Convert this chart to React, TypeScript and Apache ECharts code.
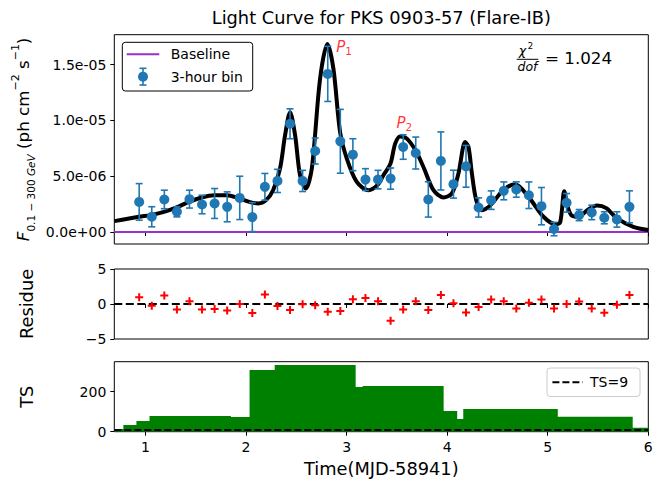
import React, { useEffect, useRef } from 'react';
import * as echarts from 'echarts';

// 3-hour bins (MJD - 58941)
const TIMES = [0.9375, 1.0625, 1.1875, 1.3125, 1.4375, 1.5625, 1.6875, 1.8125, 1.9375, 2.0625,
  2.1875, 2.3125, 2.4375, 2.5625, 2.6875, 2.8125, 2.9375, 3.0625, 3.1875, 3.3125,
  3.4375, 3.5625, 3.6875, 3.8125, 3.9375, 4.0625, 4.1875, 4.3125, 4.4375, 4.5625,
  4.6875, 4.8125, 4.9375, 5.0625, 5.1875, 5.3125, 5.4375, 5.5625, 5.6875, 5.8125];
// flux in units of 1e-6 ph cm^-2 s^-1
const FLUX = [2.70, 1.37, 2.92, 1.81, 2.95, 2.47, 2.56, 2.26, 3.06, 1.34,
  4.05, 4.58, 9.70, 4.58, 7.26, 14.17, 8.13, 6.93, 4.70, 4.70,
  4.79, 7.62, 7.08, 2.92, 6.37, 4.29, 5.89, 2.20, 2.86, 3.69,
  3.81, 3.30, 2.32, 0.27, 2.62, 1.52, 1.76, 1.28, 1.13, 2.26];
const FLUX_ERR = [1.64, 0.90, 0.83, 0.45, 0.80, 0.83, 1.34, 1.34, 1.94, 1.30,
  1.20, 1.04, 1.34, 0.95, 1.16, 2.47, 2.86, 1.43, 0.98, 0.83,
  0.95, 1.10, 1.43, 1.58, 2.60, 1.25, 1.87, 0.86, 0.83, 0.80,
  0.69, 1.19, 1.67, 0.60, 0.83, 0.50, 0.65, 0.54, 0.69, 1.43];
const RESIDUALS = [0.97, -0.24, 1.2, -0.77, 0.39, -0.77, -0.72, -0.92, 0.0, -1.3,
  1.35, -0.29, -0.87, -0.05, -0.19, -1.1, -1.0, 0.68, 0.87, 0.39,
  -2.4, -0.77, 0.39, -0.87, 1.3, 0.1, -1.2, -0.43, 0.63, 0.39,
  -0.63, 0.19, 0.63, -0.63, 0.0, 0.34, -0.63, -1.26, -0.1, 1.3];
// fitted model curve (time, flux in 1e-6)
const MODEL_T = [0.69, 0.935, 1.055, 1.184, 1.31, 1.433, 1.559, 1.685, 1.808, 1.933,
  2.04, 2.122, 2.199, 2.269, 2.338, 2.388, 2.438, 2.488, 2.537, 2.594,
  2.654, 2.736, 2.809, 2.869, 2.935, 3.002, 3.101, 3.217, 3.306, 3.366,
  3.436, 3.483, 3.532, 3.599, 3.685, 3.764, 3.864, 3.963, 4.047, 4.112,
  4.179, 4.212, 4.246, 4.289, 4.345, 4.431, 4.557, 4.677, 4.809, 4.958,
  5.075, 5.124, 5.164, 5.194, 5.234, 5.307, 5.393, 5.49, 5.582, 5.689,
  5.851, 6.0];
const MODEL_F = [0.98, 1.37, 1.52, 1.81, 2.21, 2.71, 3.10, 3.30, 3.30, 3.01,
  2.68, 2.56, 2.86, 3.75, 5.69, 8.66, 10.74, 8.66, 5.09, 3.90,
  5.69, 13.72, 16.85, 14.62, 8.96, 6.58, 4.49, 3.75, 4.20, 5.09,
  6.13, 7.92, 8.57, 8.37, 7.32, 5.83, 3.75, 3.10, 3.46, 5.24,
  8.06, 7.62, 5.24, 2.86, 1.96, 2.41, 3.75, 4.29, 3.15, 1.37,
  0.71, 0.89, 3.66, 2.41, 1.52, 1.37, 1.96, 2.37, 2.14, 1.22,
  0.47, 0.18];
const BASELINE = 0;
// TS blocks
const TS_EDGES = [0.69, 0.78, 0.91, 1.04, 1.85, 2.035, 2.285, 3.09, 3.16, 3.965, 4.10, 4.16, 5.10, 5.845, 6.0];
const TS_VALUES = [13, 33, 54, 78, 73, 308, 333, 223, 228, 103, 63, 113, 75, 20];
const TS_THRESHOLD = 9;
const CHI2_DOF = '1.024';

const X_TICKS = [1, 2, 3, 4, 5, 6];
const FLUX_TICKS = [0, 5e-6, 1e-5, 1.5e-5];
const RES_TICKS = [-5, 0, 5];
const TS_TICKS = [0, 200];

const PEAKS = [
  { label: '1', t: 2.902, f: 1.655e-5 },
  { label: '2', t: 3.502, f: 9.73e-6 },
];

const FONT = 'DejaVu Sans';
const XMIN = 0.69;
const XMAX = 6.0;
const BLUE = '#1f77b4';
const PURPLE = '#9932cc';
const LABEL_SIZE = 17.8;

function sci(v: number): string {
  if (Math.abs(v) < 1e-12) return '0.0e+00';
  const e = Math.floor(Math.log10(Math.abs(v)) + 1e-9);
  const m = v / Math.pow(10, e);
  return m.toFixed(1) + 'e' + (e < 0 ? '-' : '+') + String(Math.abs(e)).padStart(2, '0');
}

const PLUS = 'path://M3.75 0H6.25V3.75H10V6.25H6.25V10H3.75V6.25H0V3.75H3.75Z';

export default function App() {
  const ref = useRef<HTMLDivElement>(null);
  useEffect(() => {
    const chart = echarts.init(ref.current!, null, { renderer: 'svg' });
    const L = 114.3, W = 534;
    const grids = [
      { left: L, top: 34.7, width: W, height: 209.3 },
      { left: L, top: 269, width: W, height: 70 },
      { left: L, top: 361.7, width: W, height: 70 },
    ].map(g => ({ ...g, show: true, borderColor: '#000', borderWidth: 1, backgroundColor: 'transparent' }));

    const xAxes = [0, 1, 2].map(i => ({
      type: 'value', gridIndex: i, min: XMIN, max: XMAX,
      axisLine: { show: false }, splitLine: { show: false },
      axisTick: { show: true, length: 4, lineStyle: { color: '#000', width: 1 }, customValues: X_TICKS },
      axisLabel: { show: i === 2, customValues: X_TICKS, color: '#000', fontFamily: FONT, fontSize: 14, margin: 8 },
    }));
    const yCommon = {
      type: 'value', axisLine: { show: false }, splitLine: { show: false },
      axisTick: { show: true, length: 4, lineStyle: { color: '#000', width: 1 } },
    };
    const yAxes = [
      { ...yCommon, gridIndex: 0, min: -1.07e-6, max: 1.768e-5,
        axisTick: { ...yCommon.axisTick, customValues: FLUX_TICKS },
        axisLabel: { customValues: FLUX_TICKS, formatter: (v: number) => sci(v), color: '#000', fontFamily: FONT, fontSize: 14, margin: 8 } },
      { ...yCommon, gridIndex: 1, min: -5, max: 5,
        axisTick: { ...yCommon.axisTick, customValues: RES_TICKS },
        axisLabel: { customValues: RES_TICKS, formatter: (v: number) => (v < 0 ? '\u2212' + Math.abs(v) : String(v)), color: '#000', fontFamily: FONT, fontSize: 14, margin: 8 } },
      { ...yCommon, gridIndex: 2, min: 0, max: 350,
        axisTick: { ...yCommon.axisTick, customValues: TS_TICKS },
        axisLabel: { customValues: TS_TICKS, color: '#000', fontFamily: FONT, fontSize: 14, margin: 8 } },
    ];

    const tsData: number[][] = TS_VALUES.map((v, i) => [TS_EDGES[i], v]);
    tsData.push([TS_EDGES[TS_EDGES.length - 1], TS_VALUES[TS_VALUES.length - 1]]);

    const series: any[] = [
      {
        type: 'line', name: 'Baseline', xAxisIndex: 0, yAxisIndex: 0, symbol: 'none',
        data: [[XMIN, BASELINE], [XMAX, BASELINE]],
        lineStyle: { color: PURPLE, width: 2 }, z: 2,
      },
      {
        type: 'line', name: 'model', xAxisIndex: 0, yAxisIndex: 0, symbol: 'none', smooth: 0.3,
        data: MODEL_T.map((t, i) => [t, MODEL_F[i] * 1e-6]),
        lineStyle: { color: '#000', width: 4 }, z: 3,
      },
      {
        type: 'custom', name: 'err', xAxisIndex: 0, yAxisIndex: 0, z: 4,
        data: TIMES.map((t, i) => [t, (FLUX[i] - FLUX_ERR[i]) * 1e-6, (FLUX[i] + FLUX_ERR[i]) * 1e-6]),
        encode: { x: 0, y: [1, 2] },
        renderItem: (params: any, api: any) => {
          const x = api.value(0), lo = api.value(1), hi = api.value(2);
          const a = api.coord([x, lo]), b = api.coord([x, hi]);
          const c = 3.5;
          const style = { stroke: BLUE, lineWidth: 1.6 };
          return {
            type: 'group', children: [
              { type: 'line', shape: { x1: a[0], y1: a[1], x2: b[0], y2: b[1] }, style },
              { type: 'line', shape: { x1: a[0] - c, y1: a[1], x2: a[0] + c, y2: a[1] }, style },
              { type: 'line', shape: { x1: b[0] - c, y1: b[1], x2: b[0] + c, y2: b[1] }, style },
            ],
          };
        },
      },
      {
        type: 'scatter', name: '3-hour bin', xAxisIndex: 0, yAxisIndex: 0, z: 5,
        symbol: 'circle', symbolSize: 10, itemStyle: { color: BLUE, opacity: 1 },
        data: TIMES.map((t, i) => [t, FLUX[i] * 1e-6]),
      },
      {
        type: 'scatter', name: 'peaks', xAxisIndex: 0, yAxisIndex: 0, z: 6, symbolSize: 1,
        itemStyle: { color: 'transparent' },
        data: PEAKS.map(p => ({ value: [p.t, p.f], name: p.label })),
        label: {
          show: true, position: [0, 0], align: 'left', verticalAlign: 'middle',
          formatter: (p: any) => '{p|P}{s|' + p.name + '}',
          rich: {
            p: { fontFamily: FONT, fontStyle: 'italic', fontSize: 15, color: '#ff0000', lineHeight: 20, verticalAlign: 'middle' },
            s: { fontFamily: FONT, fontSize: 10.5, color: '#ff0000', lineHeight: 11, verticalAlign: 'bottom' },
          },
        },
      },
      {
        type: 'scatter', name: 'residue', xAxisIndex: 1, yAxisIndex: 1, z: 5,
        symbol: PLUS, symbolSize: 8, itemStyle: { color: '#ff0000', opacity: 1 },
        data: TIMES.map((t, i) => [t, RESIDUALS[i]]),
        markLine: {
          silent: true, symbol: ['none', 'none'], label: { show: false },
          lineStyle: { color: '#000', type: [8, 3.5], width: 2 },
          data: [{ yAxis: 0 }],
        },
      },
      {
        type: 'line', name: 'TS', xAxisIndex: 2, yAxisIndex: 2, step: 'end', symbol: 'none', z: 3,
        data: tsData,
        lineStyle: { width: 0, color: '#008000' },
        areaStyle: { color: '#008000', opacity: 1 },
        markLine: {
          silent: true, symbol: ['none', 'none'], label: { show: false },
          lineStyle: { color: '#000', type: [7, 3], width: 2 },
          data: [{ yAxis: TS_THRESHOLD }],
        },
      },
    ];

    const txt = (text: string, x: number, y: number, extra: any = {}) => ({
      type: 'text', x, y, z: 100,
      style: { text, fontFamily: FONT, fontSize: LABEL_SIZE, fill: '#000', align: 'center', verticalAlign: 'middle', ...extra },
    });

    const graphic: any[] = [
      txt('Light Curve for PKS 0903-57 (Flare-IB)', 381.3, 17),
      txt('Time(MJD-58941)', 381.3, 468),
      { ...txt('Residue', 26, 304), rotation: Math.PI / 2 },
      { ...txt('TS', 26, 396.7), rotation: Math.PI / 2 },
      {
        type: 'text', x: 23, y: 139.4, rotation: Math.PI / 2, z: 100,
        style: {
          text: '{f|F}{sub|0.1 \u2212 300 }{subi|GeV}{n| (ph cm}{sup|\u22122}{n| s}{sup|\u22121}{n|)}',
          align: 'center', verticalAlign: 'middle', fill: '#000',
          rich: {
            f: { fontFamily: FONT, fontStyle: 'italic', fontSize: 16.7, lineHeight: 26, verticalAlign: 'middle', fill: '#000' },
            n: { fontFamily: FONT, fontSize: 16.7, lineHeight: 26, verticalAlign: 'middle', fill: '#000' },
            sub: { fontFamily: FONT, fontSize: 10.5, lineHeight: 11, verticalAlign: 'bottom', fill: '#000' },
            subi: { fontFamily: FONT, fontStyle: 'italic', fontSize: 10.5, lineHeight: 11, verticalAlign: 'bottom', fill: '#000' },
            sup: { fontFamily: FONT, fontSize: 11, lineHeight: 11, verticalAlign: 'top', fill: '#000' },
          },
        },
      },
      // chi2/dof annotation
      txt('\u03c7', 522.5, 50, { fontSize: 12.5, fontStyle: 'italic' }),
      txt('2', 530.5, 45.5, { fontSize: 8.5 }),
      { type: 'line', z: 100, shape: { x1: 516.7, y1: 59.3, x2: 538.3, y2: 59.3 }, style: { stroke: '#000', lineWidth: 1 } },
      txt('dof', 527.5, 66, { fontSize: 12.5, fontStyle: 'italic' }),
      txt('= ' + CHI2_DOF, 545, 58.3, { align: 'left', fontSize: 16.7 }),
      // top legend
      { type: 'rect', z: 99, shape: { x: 122.3, y: 42.3, width: 130.4, height: 48.7, r: 3 },
        style: { fill: 'rgba(255,255,255,0.8)', stroke: '#000', lineWidth: 1 } },
      { type: 'line', z: 100, shape: { x1: 126.7, y1: 54.3, x2: 159.3, y2: 54.3 }, style: { stroke: PURPLE, lineWidth: 2 } },
      txt('Baseline', 170.7, 54.3, { align: 'left', fontSize: 14 }),
      { type: 'line', z: 100, shape: { x1: 143, y1: 68.3, x2: 143, y2: 85 }, style: { stroke: BLUE, lineWidth: 1.6 } },
      { type: 'line', z: 100, shape: { x1: 139.5, y1: 68.3, x2: 146.5, y2: 68.3 }, style: { stroke: BLUE, lineWidth: 1.6 } },
      { type: 'line', z: 100, shape: { x1: 139.5, y1: 85, x2: 146.5, y2: 85 }, style: { stroke: BLUE, lineWidth: 1.6 } },
      { type: 'circle', z: 101, shape: { cx: 143, cy: 76.7, r: 5 }, style: { fill: BLUE } },
      txt('3-hour bin', 170.7, 76.7, { align: 'left', fontSize: 14 }),
      // TS legend
      { type: 'rect', z: 99, shape: { x: 547, y: 368, width: 93, height: 28.5, r: 3 },
        style: { fill: 'rgba(255,255,255,0.8)', stroke: '#cccccc', lineWidth: 1 } },
      { type: 'line', z: 100, shape: { x1: 552.4, y1: 382.3, x2: 582.8, y2: 382.3 }, style: { stroke: '#000', lineWidth: 2, lineDash: [7, 3] } },
      txt('TS=' + TS_THRESHOLD, 590, 382.3, { align: 'left', fontSize: 14 }),
    ];

    chart.setOption({
      animation: false,
      backgroundColor: '#fff',
      textStyle: { fontFamily: FONT },
      grid: grids,
      xAxis: xAxes,
      yAxis: yAxes,
      series,
      graphic,
    } as any);
    return () => chart.dispose();
  }, []);
  return <div ref={ref} style={{ position: 'fixed', left: 0, top: 0, width: 667, height: 485 }} />;
}
